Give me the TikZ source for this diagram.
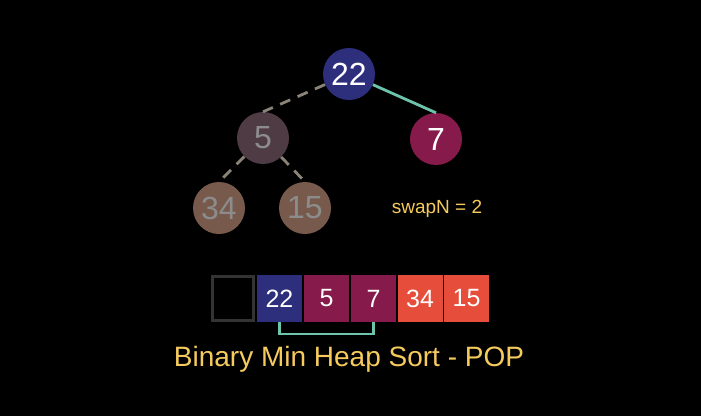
\documentclass[tikz,border=0pt]{standalone}
\usepackage{fontspec}
\setmainfont{Liberation Sans}
\usepackage{tikz}
\definecolor{heapblue}{HTML}{2E2F7C}
\definecolor{heapplum}{HTML}{861A4A}
\definecolor{heapdim}{HTML}{4E3B43}
\definecolor{heapbrown}{HTML}{785A4D}
\definecolor{heaporange}{HTML}{E64D3A}
\definecolor{heapteal}{HTML}{6EC3AB}
\definecolor{heapyellow}{HTML}{F6CB5E}
\definecolor{heapgrey}{HTML}{8A8478}
\definecolor{heaptext}{HTML}{8C8C8C}
\begin{document}
\begin{tikzpicture}[x=1pt,y=-1pt,
  heapnode/.style={circle,minimum size=52pt,inner sep=0pt,text=white,font=\fontsize{32}{32}\selectfont},
  faded/.style={text=heaptext},
  cell/.style={minimum width=45pt,minimum height=47pt,inner sep=0pt,text=white,font=\fontsize{25}{25}\selectfont},
  tree/.style={heapgrey,line width=2.8pt,dash pattern=on 11pt off 8pt}]
  \useasboundingbox[fill=black] (0,0) rectangle (701,416);
  % the heap
  \node[heapnode,fill=heapblue] (n22) at (349,74) {22};
  \node[heapnode,fill=heapdim,faded] (n5) at (263,138) {5};
  \node[heapnode,fill=heapplum] (n7) at (436,139) {7};
  \node[heapnode,fill=heapbrown,faded] (n34) at (219,208) {34};
  \node[heapnode,fill=heapbrown,faded] (n15) at (305,208) {15};
  \node[text=heapyellow,font=\fontsize{19}{19}\selectfont] (swap) at (437,209) {swapN = 2};
  \path[tree]
    (n22) edge (n5.north)
    (n5) edge (n34.north)
    (n5) edge (n15.north);
  \draw[heapteal,line width=2.8pt] (n22) -- (n7.north);
  % the array
  \node[cell,draw=black!80!white,line width=2.5pt,minimum width=41pt,minimum height=44pt] (a0) at (233,298.5) {};
  \node[cell,fill=heapblue] (a1) at (279.5,298.5) {22};
  \node[cell,fill=heapplum] (a2) at (326.5,298.5) {5};
  \node[cell,fill=heapplum] (a3) at (373.5,298.5) {7};
  \node[cell,fill=heaporange] (a4) at (420,298.5) {34};
  \node[cell,fill=heaporange] (a5) at (466.5,298.5) {15};
  \draw[heapteal,line width=2.5pt] (a1.south) -- ++(0,12) -| (a3.south);
  \node[text=heapyellow,font=\fontsize{28}{28}\selectfont] (title) at (349,359) {Binary Min Heap Sort - POP};
\end{tikzpicture}
\end{document}
